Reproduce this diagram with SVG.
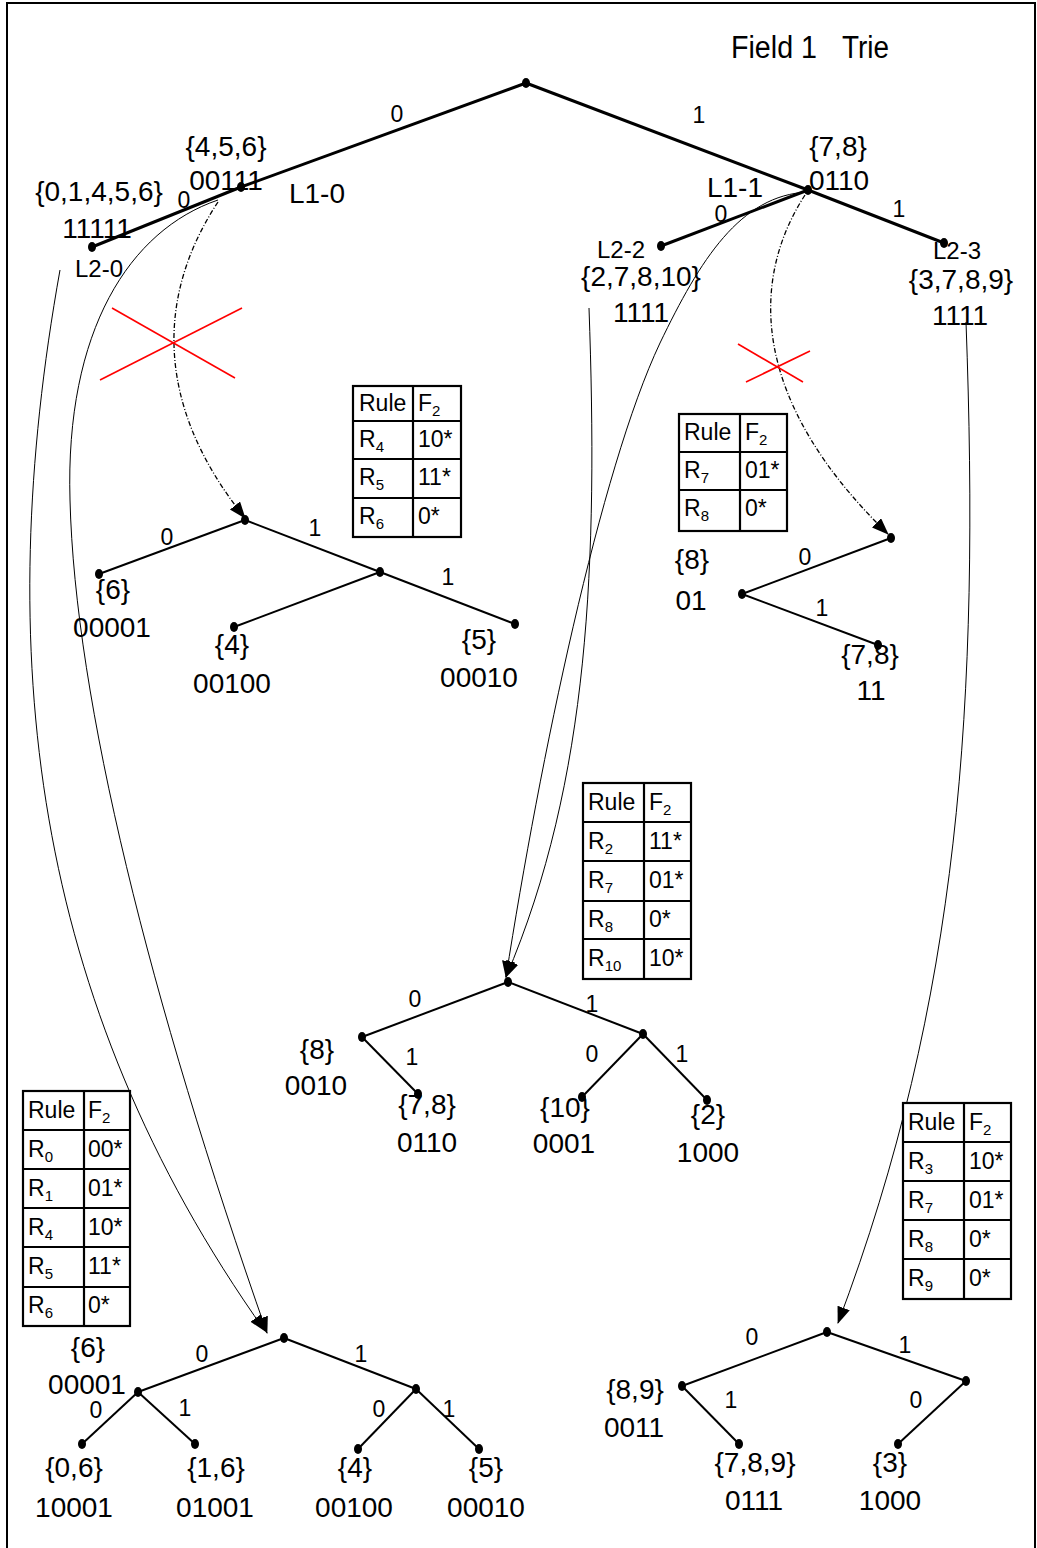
<svg xmlns="http://www.w3.org/2000/svg" width="1037" height="1548" viewBox="0 0 1037 1548">
<style>
text{font-family:"Liberation Sans",Arial,sans-serif;fill:#000}
.lb{font-size:28px;text-anchor:middle}
.el{font-size:23px;text-anchor:middle}
.lv{font-size:24px;text-anchor:middle}
.tt{font-size:23px}
.sub{font-size:15px}
.dot{fill:#000}
.e3{stroke:#000;stroke-width:3;fill:none}
.e2{stroke:#000;stroke-width:2;fill:none}
.cv{stroke:#000;stroke-width:1;fill:none;marker-end:url(#ah)}
.dd{stroke:#000;stroke-width:1.3;fill:none;stroke-dasharray:5,2,1,2;marker-end:url(#ah)}
.rx{stroke:#ff0000;stroke-width:1.6}
.tb{stroke:#000;stroke-width:2.2;fill:#fff}
.tl{stroke:#000;stroke-width:2.2}
</style>
<defs>
<marker id="ah" markerUnits="userSpaceOnUse" markerWidth="18" markerHeight="14" refX="16" refY="6.5" orient="auto">
<path d="M0,0 L17,6.5 L0,13 z" fill="#000"/>
</marker>
</defs>
<rect width="1037" height="1548" fill="#fff"/>
<path d="M7,1560 V3 H1035 V1560" fill="none" stroke="#000" stroke-width="2"/>
<text x="731" y="58" style="font-size:31px"><tspan x="731" textLength="86" lengthAdjust="spacingAndGlyphs">Field 1</tspan><tspan x="842" textLength="47" lengthAdjust="spacingAndGlyphs">Trie</tspan></text>

<g id="connectors">
<!-- top trie -->
<line class="e3" x1="526" y1="83" x2="241" y2="187"/>
<line class="e3" x1="241" y1="187" x2="92" y2="247"/>
<line class="e3" x1="526" y1="83" x2="808" y2="190"/>
<line class="e3" x1="808" y1="190" x2="661" y2="246"/>
<line class="e3" x1="808" y1="190" x2="944" y2="243"/>
<!-- tree 2 -->
<line class="e2" x1="245" y1="520" x2="99" y2="574"/>
<line class="e2" x1="245" y1="520" x2="380" y2="572"/>
<line class="e2" x1="380" y1="572" x2="234" y2="627"/>
<line class="e2" x1="380" y1="572" x2="515" y2="624"/>
<!-- tree 3 -->
<line class="e2" x1="891" y1="538" x2="742" y2="594"/>
<line class="e2" x1="742" y1="594" x2="878" y2="645"/>
<!-- tree 4 -->
<line class="e2" x1="508" y1="982" x2="362" y2="1037"/>
<line class="e2" x1="508" y1="982" x2="643" y2="1034"/>
<line class="e2" x1="362" y1="1037" x2="418" y2="1094"/>
<line class="e2" x1="643" y1="1034" x2="582" y2="1097"/>
<line class="e2" x1="643" y1="1034" x2="707" y2="1100"/>
<!-- tree 5 -->
<line class="e2" x1="284" y1="1338" x2="138" y2="1392"/>
<line class="e2" x1="284" y1="1338" x2="416" y2="1389"/>
<line class="e2" x1="138" y1="1392" x2="82" y2="1444"/>
<line class="e2" x1="138" y1="1392" x2="195" y2="1444"/>
<line class="e2" x1="416" y1="1389" x2="358" y2="1449"/>
<line class="e2" x1="416" y1="1389" x2="479" y2="1449"/>
<!-- tree 6 -->
<line class="e2" x1="827" y1="1332" x2="682" y2="1386"/>
<line class="e2" x1="827" y1="1332" x2="966" y2="1381"/>
<line class="e2" x1="682" y1="1386" x2="739" y2="1444"/>
<line class="e2" x1="966" y1="1381" x2="898" y2="1444"/>
<!-- curved pointers -->
<path class="cv" d="M60,270 C-8,650 30,1000 265,1331"/>
<path class="cv" d="M218,200 C130,230 65,330 70,500 C75,700 150,1000 267,1333"/>
<path class="cv" d="M808,192 C740,195 700,260 660,343 C600,470 540,760 506,977"/>
<path class="cv" d="M589,308 C598,560 590,780 506,977"/>
<path class="cv" d="M966,322 C980,700 960,1000 838,1323"/>
<path class="dd" d="M218,202 C160,290 150,400 245,518"/>
<path class="dd" d="M805,195 C750,280 750,400 888,534"/>
<!-- red crosses -->
<line class="rx" x1="112" y1="308" x2="235" y2="378"/>
<line class="rx" x1="242" y1="308" x2="100" y2="380"/>
<line class="rx" x1="738" y1="344" x2="803" y2="382"/>
<line class="rx" x1="810" y1="351" x2="746" y2="382"/>
<!-- edge labels -->
<text class="el" x="397" y="122">0</text>
<text class="el" x="699" y="123">1</text>
<text class="el" x="184" y="208">0</text>
<text class="el" x="721" y="222">0</text>
<text class="el" x="899" y="217">1</text>
<text class="el" x="167" y="545">0</text>
<text class="el" x="315" y="536">1</text>
<text class="el" x="448" y="585">1</text>
<text class="el" x="805" y="565">0</text>
<text class="el" x="822" y="616">1</text>
<text class="el" x="415" y="1007">0</text>
<text class="el" x="592" y="1012">1</text>
<text class="el" x="412" y="1065">1</text>
<text class="el" x="592" y="1062">0</text>
<text class="el" x="682" y="1062">1</text>
<text class="el" x="202" y="1362">0</text>
<text class="el" x="361" y="1362">1</text>
<text class="el" x="96" y="1418">0</text>
<text class="el" x="185" y="1416">1</text>
<text class="el" x="379" y="1417">0</text>
<text class="el" x="449" y="1417">1</text>
<text class="el" x="752" y="1345">0</text>
<text class="el" x="905" y="1353">1</text>
<text class="el" x="731" y="1408">1</text>
<text class="el" x="916" y="1408">0</text>
</g>

<!-- top trie nodes -->
<g id="root"><ellipse class="dot" cx="526" cy="83" rx="4" ry="5"/></g>
<g id="L1-0"><ellipse class="dot" cx="241" cy="187" rx="4" ry="5"/>
<text class="lb" x="226" y="156">{4,5,6}</text><text class="lb" x="226" y="190">00111</text>
<text class="lb" x="317" y="203">L1-0</text></g>
<g id="L2-0"><ellipse class="dot" cx="92" cy="247" rx="4" ry="5"/>
<text class="lb" x="99" y="201">{0,1,4,5,6}</text><text class="lb" x="97" y="238">11111</text>
<text class="lv" x="99" y="277">L2-0</text></g>
<g id="L1-1"><ellipse class="dot" cx="808" cy="190" rx="4" ry="5"/>
<text class="lb" x="838" y="156">{7,8}</text><text class="lb" x="839" y="190">0110</text>
<text class="lb" x="735" y="197">L1-1</text></g>
<g id="L2-2"><ellipse class="dot" cx="661" cy="246" rx="4" ry="5"/>
<text class="lv" x="621" y="258">L2-2</text>
<text class="lb" x="641" y="286">{2,7,8,10}</text><text class="lb" x="641" y="322">1111</text></g>
<g id="L2-3"><ellipse class="dot" cx="944" cy="243" rx="4" ry="5"/>
<text class="lv" x="957" y="259">L2-3</text>
<text class="lb" x="961" y="289">{3,7,8,9}</text><text class="lb" x="960" y="325">1111</text></g>

<!-- tree 2 (from L1-0) -->
<g id="t2-root"><ellipse class="dot" cx="245" cy="520" rx="4" ry="5"/></g>
<g id="t2-n6"><ellipse class="dot" cx="99" cy="574" rx="4" ry="5"/>
<text class="lb" x="113" y="599">{6}</text><text class="lb" x="112" y="637">00001</text></g>
<g id="t2-n1"><ellipse class="dot" cx="380" cy="572" rx="4" ry="5"/></g>
<g id="t2-n4"><ellipse class="dot" cx="234" cy="627" rx="4" ry="5"/>
<text class="lb" x="232" y="654">{4}</text><text class="lb" x="232" y="693">00100</text></g>
<g id="t2-n5"><ellipse class="dot" cx="515" cy="624" rx="4" ry="5"/>
<text class="lb" x="479" y="649">{5}</text><text class="lb" x="479" y="687">00010</text></g>

<!-- tree 3 (from L1-1) -->
<g id="t3-root"><ellipse class="dot" cx="891" cy="538" rx="4" ry="5"/></g>
<g id="t3-n8"><ellipse class="dot" cx="742" cy="594" rx="4" ry="5"/>
<text class="lb" x="692" y="569">{8}</text><text class="lb" x="691" y="610">01</text></g>
<g id="t3-n78"><ellipse class="dot" cx="878" cy="645" rx="4" ry="5"/>
<text class="lb" x="870" y="664">{7,8}</text><text class="lb" x="871" y="700">11</text></g>

<!-- tree 4 (from L2-2) -->
<g id="t4-root"><ellipse class="dot" cx="508" cy="982" rx="4" ry="5"/></g>
<g id="t4-n8"><ellipse class="dot" cx="362" cy="1037" rx="4" ry="5"/>
<text class="lb" x="317" y="1059">{8}</text><text class="lb" x="316" y="1095">0010</text></g>
<g id="t4-n78"><ellipse class="dot" cx="418" cy="1094" rx="4" ry="5"/>
<text class="lb" x="427" y="1114">{7,8}</text><text class="lb" x="427" y="1152">0110</text></g>
<g id="t4-n1"><ellipse class="dot" cx="643" cy="1034" rx="4" ry="5"/></g>
<g id="t4-n10"><ellipse class="dot" cx="582" cy="1097" rx="4" ry="5"/>
<text class="lb" x="565" y="1117">{10}</text><text class="lb" x="564" y="1153">0001</text></g>
<g id="t4-n2"><ellipse class="dot" cx="707" cy="1100" rx="4" ry="5"/>
<text class="lb" x="708" y="1124">{2}</text><text class="lb" x="708" y="1162">1000</text></g>

<!-- tree 5 (from L2-0) -->
<g id="t5-root"><ellipse class="dot" cx="284" cy="1338" rx="4" ry="5"/></g>
<g id="t5-n6"><ellipse class="dot" cx="138" cy="1392" rx="4" ry="5"/>
<text class="lb" x="88" y="1357">{6}</text><text class="lb" x="87" y="1394">00001</text></g>
<g id="t5-n1"><ellipse class="dot" cx="416" cy="1389" rx="4" ry="5"/></g>
<g id="t5-n06"><ellipse class="dot" cx="82" cy="1444" rx="4" ry="5"/>
<text class="lb" x="74" y="1477">{0,6}</text><text class="lb" x="74" y="1517">10001</text></g>
<g id="t5-n16"><ellipse class="dot" cx="195" cy="1444" rx="4" ry="5"/>
<text class="lb" x="216" y="1477">{1,6}</text><text class="lb" x="215" y="1517">01001</text></g>
<g id="t5-n4"><ellipse class="dot" cx="358" cy="1449" rx="4" ry="5"/>
<text class="lb" x="355" y="1477">{4}</text><text class="lb" x="354" y="1517">00100</text></g>
<g id="t5-n5"><ellipse class="dot" cx="479" cy="1449" rx="4" ry="5"/>
<text class="lb" x="486" y="1477">{5}</text><text class="lb" x="486" y="1517">00010</text></g>

<!-- tree 6 (from L2-3) -->
<g id="t6-root"><ellipse class="dot" cx="827" cy="1332" rx="4" ry="5"/></g>
<g id="t6-n89"><ellipse class="dot" cx="682" cy="1386" rx="4" ry="5"/>
<text class="lb" x="635" y="1399">{8,9}</text><text class="lb" x="634" y="1437">0011</text></g>
<g id="t6-n1"><ellipse class="dot" cx="966" cy="1381" rx="4" ry="5"/></g>
<g id="t6-n789"><ellipse class="dot" cx="739" cy="1444" rx="4" ry="5"/>
<text class="lb" x="755" y="1472">{7,8,9}</text><text class="lb" x="754" y="1510">0111</text></g>
<g id="t6-n3"><ellipse class="dot" cx="898" cy="1444" rx="4" ry="5"/>
<text class="lb" x="890" y="1472">{3}</text><text class="lb" x="890" y="1510">1000</text></g>

<!-- tables -->
<g id="table-L1-0">
<rect class="tb" x="353" y="386" width="108" height="151"/>
<line class="tl" x1="413" y1="386" x2="413" y2="537"/>
<line class="tl" x1="353" y1="421" x2="461" y2="421"/>
<line class="tl" x1="353" y1="459" x2="461" y2="459"/>
<line class="tl" x1="353" y1="498" x2="461" y2="498"/>
<text class="tt" x="359" y="411">Rule</text><text class="tt" x="418" y="411">F<tspan class="sub" dy="5">2</tspan></text>
<text class="tt" x="359" y="447">R<tspan class="sub" dy="5">4</tspan></text><text class="tt" x="418" y="447">10*</text>
<text class="tt" x="359" y="485">R<tspan class="sub" dy="5">5</tspan></text><text class="tt" x="418" y="485">11*</text>
<text class="tt" x="359" y="524">R<tspan class="sub" dy="5">6</tspan></text><text class="tt" x="418" y="524">0*</text>
</g>
<g id="table-L1-1">
<rect class="tb" x="679" y="414" width="108" height="117"/>
<line class="tl" x1="740" y1="414" x2="740" y2="531"/>
<line class="tl" x1="679" y1="452" x2="787" y2="452"/>
<line class="tl" x1="679" y1="490" x2="787" y2="490"/>
<text class="tt" x="684" y="440">Rule</text><text class="tt" x="745" y="440">F<tspan class="sub" dy="5">2</tspan></text>
<text class="tt" x="684" y="478">R<tspan class="sub" dy="5">7</tspan></text><text class="tt" x="745" y="478">01*</text>
<text class="tt" x="684" y="516">R<tspan class="sub" dy="5">8</tspan></text><text class="tt" x="745" y="516">0*</text>
</g>
<g id="table-L2-2">
<rect class="tb" x="583" y="783" width="108" height="196"/>
<line class="tl" x1="644" y1="783" x2="644" y2="979"/>
<line class="tl" x1="583" y1="822" x2="691" y2="822"/>
<line class="tl" x1="583" y1="861" x2="691" y2="861"/>
<line class="tl" x1="583" y1="901" x2="691" y2="901"/>
<line class="tl" x1="583" y1="939" x2="691" y2="939"/>
<text class="tt" x="588" y="810">Rule</text><text class="tt" x="649" y="810">F<tspan class="sub" dy="5">2</tspan></text>
<text class="tt" x="588" y="849">R<tspan class="sub" dy="5">2</tspan></text><text class="tt" x="649" y="849">11*</text>
<text class="tt" x="588" y="888">R<tspan class="sub" dy="5">7</tspan></text><text class="tt" x="649" y="888">01*</text>
<text class="tt" x="588" y="927">R<tspan class="sub" dy="5">8</tspan></text><text class="tt" x="649" y="927">0*</text>
<text class="tt" x="588" y="966">R<tspan class="sub" dy="5">10</tspan></text><text class="tt" x="649" y="966">10*</text>
</g>
<g id="table-L2-0">
<rect class="tb" x="23" y="1091" width="107" height="235"/>
<line class="tl" x1="84" y1="1091" x2="84" y2="1326"/>
<line class="tl" x1="23" y1="1130" x2="130" y2="1130"/>
<line class="tl" x1="23" y1="1169" x2="130" y2="1169"/>
<line class="tl" x1="23" y1="1208" x2="130" y2="1208"/>
<line class="tl" x1="23" y1="1247" x2="130" y2="1247"/>
<line class="tl" x1="23" y1="1287" x2="130" y2="1287"/>
<text class="tt" x="28" y="1118">Rule</text><text class="tt" x="88" y="1118">F<tspan class="sub" dy="5">2</tspan></text>
<text class="tt" x="28" y="1157">R<tspan class="sub" dy="5">0</tspan></text><text class="tt" x="88" y="1157">00*</text>
<text class="tt" x="28" y="1196">R<tspan class="sub" dy="5">1</tspan></text><text class="tt" x="88" y="1196">01*</text>
<text class="tt" x="28" y="1235">R<tspan class="sub" dy="5">4</tspan></text><text class="tt" x="88" y="1235">10*</text>
<text class="tt" x="28" y="1274">R<tspan class="sub" dy="5">5</tspan></text><text class="tt" x="88" y="1274">11*</text>
<text class="tt" x="28" y="1313">R<tspan class="sub" dy="5">6</tspan></text><text class="tt" x="88" y="1313">0*</text>
</g>
<g id="table-L2-3">
<rect class="tb" x="903" y="1103" width="108" height="196"/>
<line class="tl" x1="964" y1="1103" x2="964" y2="1299"/>
<line class="tl" x1="903" y1="1142" x2="1011" y2="1142"/>
<line class="tl" x1="903" y1="1181" x2="1011" y2="1181"/>
<line class="tl" x1="903" y1="1220" x2="1011" y2="1220"/>
<line class="tl" x1="903" y1="1259" x2="1011" y2="1259"/>
<text class="tt" x="908" y="1130">Rule</text><text class="tt" x="969" y="1130">F<tspan class="sub" dy="5">2</tspan></text>
<text class="tt" x="908" y="1169">R<tspan class="sub" dy="5">3</tspan></text><text class="tt" x="969" y="1169">10*</text>
<text class="tt" x="908" y="1208">R<tspan class="sub" dy="5">7</tspan></text><text class="tt" x="969" y="1208">01*</text>
<text class="tt" x="908" y="1247">R<tspan class="sub" dy="5">8</tspan></text><text class="tt" x="969" y="1247">0*</text>
<text class="tt" x="908" y="1286">R<tspan class="sub" dy="5">9</tspan></text><text class="tt" x="969" y="1286">0*</text>
</g>
</svg>
